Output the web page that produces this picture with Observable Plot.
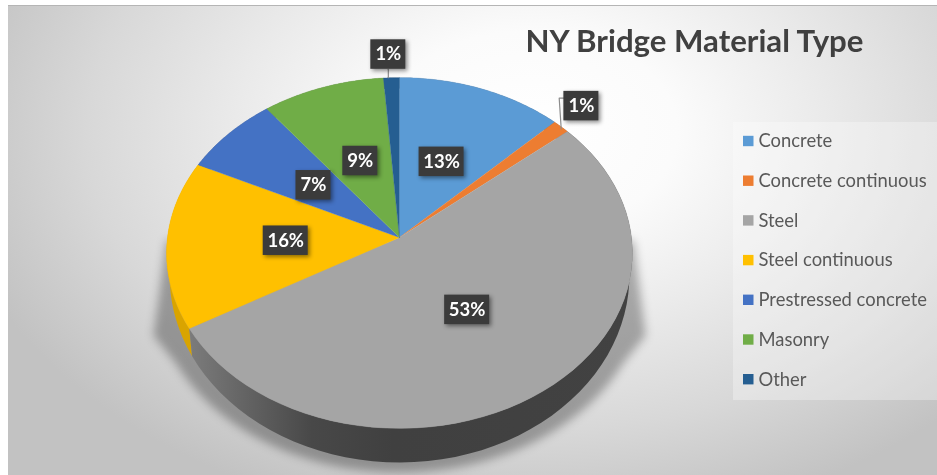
<!DOCTYPE html>
<html>
<head>
<meta charset="utf-8">
<script src="https://cdn.jsdelivr.net/npm/d3@7"></script>
<script src="https://cdn.jsdelivr.net/npm/@observablehq/plot@0.6"></script>
<style>
html,body{margin:0;padding:0;background:#fff;overflow:hidden;width:937px;height:475px}
#bg{position:absolute;left:8px;top:5px;right:0;bottom:0;border-top:1px solid #b5b5b5;
 background:radial-gradient(ellipse 590px 400px at 522px 125px,#fff 0%,#fbfbfb 25%,#eaeaea 50%,#d8d8d8 75%,#c2c2c2 100%)}
#chart{position:absolute;left:0;top:0}
#chart svg{background:transparent;display:block;filter:blur(0.35px)}
</style>
</head>
<body>
<div id="bg"></div>
<div id="chart"></div>
<script>
const titleText = "NY Bridge Material Type";
const categories = ["Concrete","Concrete continuous","Steel","Steel continuous","Prestressed concrete","Masonry","Other"];
const shares = [12.6,1.3,52.9,15.5,7.4,9.3,1.2];
const colors = ["#5b9bd5","#ed7d31","#a5a5a5","#ffc000","#4472c4","#70ad47","#255e91"];

// Layout (pixels and the pie's perspective)
const W = 937, H = 475, CX = 399, CY = 237, A = 232, B = 174, K = 0.0884;
const px = v => (v - CX) / A, py = v => (CY - v) / B;
const project = (u, v) => { const w = 1 + K * v; return [u / w, v / w]; };
const rim = a => project(Math.sin(a), Math.cos(a));
const lowerRim = a => { const [x, y] = rim(a); return [x * 0.987, y * 1.066 - 0.1236]; };

const arcs = d3.pie().sort(null)(shares);
const arcAngles = d => d3.range(0, 61).map(i => d.startAngle + (d.endAngle - d.startAngle) * i / 60);

const faces = arcs.flatMap((d, i) => [
  {k: categories[i], x: 0, y: 0},
  ...arcAngles(d).map(a => { const [x, y] = rim(a); return {k: categories[i], x, y}; })
]);
const sides = arcs.flatMap((d, i) => {
  const as = arcAngles(d);
  return [
    ...as.map(a => { const [x, y] = rim(a); return {k: categories[i], x, y}; }),
    ...as.slice().reverse().map(a => { const [x, y] = lowerRim(a); return {k: categories[i], x, y}; })
  ];
});
const sideOf = k => sides.filter(d => d.k === k);
const otherSides = sides.filter(d => d.k !== "Steel" && d.k !== "Steel continuous");

// Soft shadow cast beneath the pie
const shadow = [
  {x: px(166), y: py(240)},
  {x: px(153), y: py(335)},
  ...d3.range(0, 41).map(i => {
    const t = Math.PI * (1.36 - 0.72 * i / 40);
    return {x: px(CX + 247 * Math.sin(t)), y: py(282 - 190 * Math.cos(t))};
  }),
  {x: px(645), y: py(335)},
  {x: px(633), y: py(240)}
];

// Data labels
const callouts = {"Concrete continuous": {r: 1.2, dx: -10 / A}, "Other": {r: 1.16, dx: -2 / A}};
const labels = arcs.map((d, i) => {
  const mid = (d.startAngle + d.endAngle) / 2, c = callouts[categories[i]];
  const r = c ? c.r : 0.49;
  const [x, y] = project(r * Math.sin(mid), r * Math.cos(mid));
  return {k: categories[i], text: Math.round(shares[i]) + "%", x: x + (c ? c.dx : 0), y, mid};
});
const boxW = d => (d.text.length > 2 ? 45 : 35) / A, boxH = 29.5 / B;

const leaders = [
  ...(() => {
    const l = labels[1], [rx, ry] = rim(l.mid);
    return [
      {k: "a", x: l.x - boxW(l) / 2, y: l.y + 8 / B},
      {k: "a", x: rx - 2 / A, y: l.y + 8 / B},
      {k: "a", x: rx, y: ry - 2 / B}
    ];
  })(),
  ...(() => {
    const l = labels[6], [rx, ry] = rim(l.mid);
    return [{k: "b", x: l.x, y: l.y - boxH / 2}, {k: "b", x: l.x, y: ry}];
  })()
];

// Legend
const legendRows = categories.map((k, i) => ({k, cy: 141 + i * 39.7}));

const steelGrad = () => {
  const s = d3.create("svg:g");
  const g = s.append("defs").append("linearGradient").attr("id", "steelSide")
    .attr("gradientUnits", "userSpaceOnUse").attr("x1", 190).attr("x2", 640).attr("y1", 0).attr("y2", 0);
  [[0, "#7b7b7b"], [0.13, "#626262"], [0.27, "#484848"], [0.45, "#404040"], [1, "#424242"]]
    .forEach(([o, c]) => g.append("stop").attr("offset", o).attr("stop-color", c));
  return s.node();
};

const withFilter = css => (index, scales, values, dims, ctx, next) => {
  const g = next(index, scales, values, dims, ctx);
  g.style.filter = css;
  return g;
};

const font = "Lato, 'Open Sans', sans-serif";
const chart = Plot.plot({
  width: W, height: H, margin: 0,
  x: {domain: [-1, 1], range: [CX - A, CX + A], axis: null},
  y: {domain: [-1, 1], range: [CY + B, CY - B], axis: null},
  color: {domain: categories, range: colors},
  style: {background: "transparent"},
  marks: [
    steelGrad,
    Plot.rect([0], {x1: px(733), x2: px(937), y1: py(122), y2: py(400), fill: "#fff", fillOpacity: 0.3}),
    Plot.line(shadow, {x: "x", y: "y", fill: "#000", fillOpacity: 0.3, stroke: "none", render: withFilter("blur(5px)")}),
    Plot.line(otherSides, {x: "x", y: "y", z: "k", fill: "#777", stroke: "none"}),
    Plot.line(sideOf("Steel continuous"), {x: "x", y: "y", fill: "#d9a400", stroke: "none"}),
    Plot.line(sideOf("Steel"), {x: "x", y: "y", fill: "url(#steelSide)", stroke: "none"}),
    Plot.line(faces, {x: "x", y: "y", z: "k", fill: "k", stroke: "k", strokeWidth: 0.4}),
    Plot.line(leaders, {x: "x", y: "y", z: "k", stroke: "#8c8c8c", strokeWidth: 1.2}),
    Plot.rect(labels, {
      x1: d => d.x - boxW(d) / 2, x2: d => d.x + boxW(d) / 2,
      y1: d => d.y - boxH / 2, y2: d => d.y + boxH / 2,
      fill: "#3b3b3b", render: withFilter("drop-shadow(2px 2px 2px rgba(0,0,0,.45))")
    }),
    Plot.text(labels, {x: "x", y: "y", text: "text", fill: "#fff", fontSize: 18.5, fontWeight: 700, fontFamily: font}),
    Plot.text([titleText], {x: px(694), y: py(42), text: d => d, fill: "#404040", fontSize: 31.2, fontWeight: 700, fontFamily: font}),
    Plot.rect(legendRows, {
      x1: px(743), x2: px(753.5),
      y1: d => py(d.cy - 5.2), y2: d => py(d.cy + 5.2),
      fill: "k"
    }),
    Plot.text(legendRows, {x: px(758), y: d => py(d.cy), text: "k", textAnchor: "start", fill: "#595959", fontSize: 18.4, fontFamily: font})
  ]
});
document.getElementById("chart").appendChild(chart);
</script>
</body>
</html>
